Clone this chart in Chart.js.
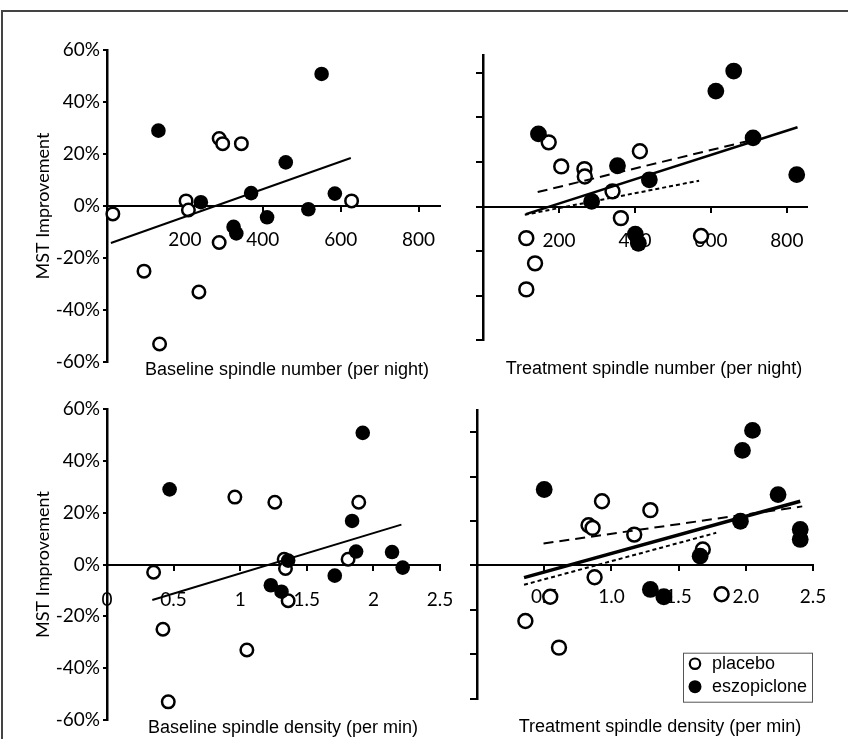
<!DOCTYPE html>
<html>
<head>
<meta charset="utf-8">
<script src="https://cdn.jsdelivr.net/npm/chart.js@4.4.1/dist/chart.umd.min.js"></script>
<style>
  html, body { margin: 0; padding: 0; background: #fff; overflow: hidden; width: 848px; height: 739px; }
  #frame { position: absolute; left: 1px; top: 10px; width: 900px; height: 800px;
           border-left: 2px solid #444; border-top: 2px solid #444; }
  canvas { position: absolute; }
</style>
</head>
<body>
<div id="frame"></div>
<canvas id="p1" width="574" height="351" style="left:0;top:30px"></canvas>
<canvas id="p2" width="408" height="350" style="left:450px;top:30px"></canvas>
<canvas id="p3" width="566" height="349" style="left:0;top:390px"></canvas>
<canvas id="p4" width="420" height="348" style="left:450px;top:390px"></canvas>
<script>
'use strict';

// baseline panels: MST improvement (%) is shared by number and density plots
const basePlaceboY   = [-3, -25, -53, -33, 2, -1.5, 26, 24, 24, -14, 2];
const basePlaceboNum = [15, 95, 135, 236, 203, 209, 288, 297, 345, 288, 628];
const basePlaceboDen = [0.35, 0.42, 0.46, 1.05, 1.33, 1.34, 0.96, 1.26, 1.89, 1.36, 1.81];
const baseDrugY      = [29, 1.5, 5, -8, -10.5, -4.3, 16.8, -1.2, 50.8, 4.8];
const baseDrugNum    = [132, 241, 370, 325, 332, 411, 459, 517, 551, 585];
const baseDrugDen    = [0.47, 1.36, 1.87, 1.23, 1.31, 1.71, 1.84, 2.22, 1.92, 2.14];

// treatment panels
const treatPlaceboNum  = [173, 206, 267, 268, 413, 341, 363, 114, 137, 114, 574];
const treatPlaceboNumY = [28.8, 18, 16.8, 13.5, 24.8, 6.8, -5.2, -14.2, -25.5, -37.2, -13.2];
const treatPlaceboDen  = [0.93, 0.83, 0.86, 1.17, 1.29, 1.68, 0.875, 0.545, 0.36, 0.61, 1.82];
const treatPlaceboDenY = [28.9, 18.1, 16.9, 13.9, 24.9, 7.2, -5.3, -14.1, -25, -37, -13];
const treatDrugNum     = [146, 354, 438, 286, 401, 409, 613, 660, 711, 826];
const treatDrugNumY    = [32.6, 18.3, 12.0, 2.3, -12.4, -16.5, 51.8, 60.8, 30.8, 14.3];
const treatDrugDen     = [0.5, 1.96, 2.405, 1.66, 1.29, 1.39, 1.975, 2.05, 2.24, 2.405];
const treatDrugDenY    = [34.2, 19.9, 11.7, 4.2, -10.8, -14.1, 51.8, 60.8, 31.9, 16.2];

// regression lines (end points)
const baseNumFitX = [10, 626];    const baseNumFitY = [-14.2, 18.5];
const baseDenFitX = [0.34, 2.21]; const baseDenFitY = [-13.7, 15.4];
const treatNumFitX = [113, 828];         const treatNumFitY = [-3.4, 35.6];
const treatNumDrugFitX = [144, 732];     const treatNumDrugFitY = [6.5, 30.8];
const treatNumPlaceboFitX = [110, 569];  const treatNumPlaceboFitY = [-3.7, 11.6];
const treatDenFitX = [0.35, 2.405];      const treatDenFitY = [-5.5, 28.9];
const treatDenDrugFitX = [0.495, 2.42];  const treatDenDrugFitY = [9.9, 26.6];
const treatDenPlaceboFitX = [0.35, 1.78]; const treatDenPlaceboFitY = [-8.7, 14.7];

const legendLabels = ['placebo', 'eszopiclone'];

Chart.defaults.font.family = 'Lato';
Chart.defaults.color = '#000';

const pts = (xs, ys) => xs.map((x, i) => ({ x: x, y: ys[i] }));

function fit(xs, ys, width, dash) {
  return { type: 'line', data: pts(xs, ys), borderColor: '#000', borderWidth: width,
    borderDash: dash || [], pointRadius: 0, fill: false, clip: false };
}

// r is the outer radius of the marker
function dots(label, xs, ys, r, filled) {
  return { label: label, data: pts(xs, ys), clip: false,
    pointRadius: filled ? r : r - 1.25,
    pointBorderWidth: filled ? 0 : 2.5,
    pointBackgroundColor: filled ? '#000' : '#fff',
    pointBorderColor: '#000' };
}

const boxLegend = {
  id: 'boxLegend',
  afterDraw(chart) {
    const ctx = chart.ctx, ca = chart.chartArea;
    const x = ca.right - 130, y = ca.bottom - 46, w = 129, h = 49;
    ctx.save();
    ctx.fillStyle = '#fff';
    ctx.fillRect(x, y, w, h);
    ctx.strokeStyle = '#555';
    ctx.lineWidth = 1;
    ctx.strokeRect(x + 0.5, y + 0.5, w, h);
    ctx.font = '18px "Liberation Sans"';
    ctx.textBaseline = 'middle';
    legendLabels.forEach((name, i) => {
      const ds = chart.data.datasets.find(d => d.label === name);
      const cy = y + 11 + i * 23;
      ctx.beginPath();
      ctx.arc(x + 12, cy, ds.pointBorderWidth ? 5.2 : 6.5, 0, Math.PI * 2);
      ctx.fillStyle = ds.pointBackgroundColor;
      ctx.fill();
      if (ds.pointBorderWidth) {
        ctx.lineWidth = 2.2;
        ctx.strokeStyle = '#000';
        ctx.stroke();
      }
      ctx.fillStyle = '#000';
      ctx.fillText(name, x + 29, cy);
    });
    ctx.restore();
  }
};

function panel(id, cfg) {
  return new Chart(document.getElementById(id), {
    type: 'scatter',
    data: { datasets: cfg.datasets },
    options: {
      responsive: false,
      animation: false,
      layout: { padding: { top: cfg.padTop, left: 0, right: 0, bottom: 0 } },
      plugins: {
        legend: { display: false },
        tooltip: { enabled: false },
        title: {
          display: true, position: 'bottom', text: cfg.title, color: '#000',
          font: { family: 'Liberation Sans', size: 18, weight: 'normal' },
          padding: { top: cfg.titlePad, bottom: 0 }
        }
      },
      scales: {
        x: {
          type: 'linear', position: { y: 0 }, min: 0, max: cfg.xMax,
          ticks: { stepSize: cfg.xStep, includeBounds: false, maxRotation: 0, autoSkip: false,
            padding: cfg.xPad, font: { size: 19 }, callback: cfg.xLabel },
          grid: { drawOnChartArea: false, tickLength: 5, color: '#000', lineWidth: 2 },
          border: { color: '#000', width: 2 },
          afterFit: s => { s.paddingLeft = 0; s.paddingRight = 0; }
        },
        y: {
          type: 'linear', position: 'left', min: -60, max: cfg.yMax,
          ticks: { stepSize: 20, includeBounds: false, display: cfg.yLabels, padding: 3,
            font: { size: 19 }, callback: v => v + '%' },
          grid: { drawOnChartArea: false, tickLength: cfg.yLabels ? 4 : 7, color: '#000', lineWidth: 2 },
          border: { color: '#000', width: 2.5 },
          title: { display: cfg.yLabels, text: 'MST Improvement', font: { size: 18 },
            padding: { top: 32, bottom: 0 } },
          afterFit: s => { s.width = cfg.yWidth; s.paddingTop = 0; s.paddingBottom = 0; }
        },
        yR: {
          type: 'linear', position: 'right', display: true,
          grid: { display: false }, border: { display: false }, ticks: { display: false },
          afterFit: s => { s.width = cfg.rightW; }
        }
      }
    },
    plugins: cfg.plugins || []
  });
}

const hideZero = v => (v === 0 ? '' : String(v));

panel('p1', {
  title: 'Baseline spindle number (per night)',
  padTop: 20, titlePad: -2.8, yWidth: 107, rightW: 134, yMax: 60, yLabels: true,
  xMax: 855, xStep: 200, xPad: 17, xLabel: hideZero,
  datasets: [
    fit(baseNumFitX, baseNumFitY, 2),
    dots('eszopiclone', baseDrugNum, baseDrugY, 7.3, true),
    dots('placebo', basePlaceboNum, basePlaceboY, 7.5, false)
  ]
});

panel('p2', {
  title: 'Treatment spindle number (per night)',
  padTop: 25, titlePad: 18.2, yWidth: 33, rightW: 51, yMax: 68, yLabels: false,
  xMax: 853, xStep: 200, xPad: 17.5, xLabel: hideZero,
  datasets: [
    fit(treatNumFitX, treatNumFitY, 2.5),
    fit(treatNumDrugFitX, treatNumDrugFitY, 2, [10, 6]),
    fit(treatNumPlaceboFitX, treatNumPlaceboFitY, 2, [4, 3]),
    dots('eszopiclone', treatDrugNum, treatDrugNumY, 8.4, true),
    dots('placebo', treatPlaceboNum, treatPlaceboNumY, 8.2, false)
  ]
});

panel('p3', {
  title: 'Baseline spindle density (per min)',
  padTop: 19, titlePad: -2.6, yWidth: 107, rightW: 126, yMax: 60, yLabels: true,
  xMax: 2.5, xStep: 0.5, xPad: 18.5, xLabel: v => String(v),
  datasets: [
    fit(baseDenFitX, baseDenFitY, 2),
    dots('eszopiclone', baseDrugDen, baseDrugY, 7.3, true),
    dots('placebo', basePlaceboDen, basePlaceboY, 7.5, false)
  ]
});

panel('p4', {
  title: 'Treatment spindle density (per min)',
  padTop: 20, titlePad: 17.7, yWidth: 27, rightW: 57, yMax: 70, yLabels: false,
  xMax: 2.5, xStep: 0.5, xPad: 15, xLabel: v => (v === 0 ? '' : v.toFixed(1)),
  datasets: [
    fit(treatDenFitX, treatDenFitY, 3.5),
    fit(treatDenDrugFitX, treatDenDrugFitY, 2, [10, 6]),
    fit(treatDenPlaceboFitX, treatDenPlaceboFitY, 2, [4, 3]),
    dots('eszopiclone', treatDrugDen, treatDrugDenY, 8.4, true),
    dots('placebo', treatPlaceboDen, treatPlaceboDenY, 8.2, false)
  ],
  plugins: [boxLegend]
});
</script>
</body>
</html>
